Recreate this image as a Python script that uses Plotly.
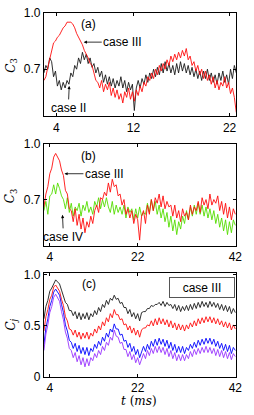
import plotly.graph_objects as go

# ---- time grids (ms) ----
t_a = [round(2.7 + 0.2 * k, 2) for k in range(101)]
t_b = [round(2.8 + 0.4 * k, 2) for k in range(99)]

# ---- panel (a): C3, case II (black) and case III (red) ----
a_case3 = [0.64, 0.66, 0.71, 0.75, 0.80, 0.84, 0.85, 0.87, 0.88, 0.90,
           0.92, 0.93, 0.95, 0.95, 0.95, 0.94, 0.92, 0.89, 0.87, 0.85,
           0.83, 0.80, 0.78, 0.76, 0.73, 0.72, 0.68, 0.64, 0.63, 0.60,
           0.64, 0.58, 0.62, 0.59, 0.63, 0.56, 0.60, 0.55, 0.59, 0.54,
           0.57, 0.52, 0.58, 0.55, 0.60, 0.54, 0.58, 0.53, 0.59, 0.56,
           0.61, 0.58, 0.63, 0.61, 0.66, 0.64, 0.68, 0.65, 0.70, 0.67,
           0.72, 0.69, 0.73, 0.70, 0.75, 0.72, 0.77, 0.74, 0.78, 0.75,
           0.79, 0.76, 0.80, 0.77, 0.81, 0.75, 0.77, 0.72, 0.74, 0.69,
           0.72, 0.67, 0.70, 0.65, 0.69, 0.64, 0.67, 0.62, 0.66, 0.60,
           0.64, 0.59, 0.63, 0.61, 0.66, 0.60, 0.63, 0.57, 0.60, 0.55,
           0.47]
a_case2 = [0.68, 0.72, 0.70, 0.76, 0.74, 0.66, 0.69, 0.61, 0.64, 0.59,
           0.63, 0.60, 0.64, 0.62, 0.68, 0.66, 0.72, 0.70, 0.76, 0.73,
           0.79, 0.75, 0.78, 0.73, 0.76, 0.71, 0.73, 0.68, 0.71, 0.66,
           0.69, 0.63, 0.67, 0.62, 0.66, 0.61, 0.65, 0.60, 0.64, 0.61,
           0.66, 0.60, 0.64, 0.58, 0.63, 0.59, 0.62, 0.48, 0.60, 0.64,
           0.60, 0.65, 0.62, 0.67, 0.63, 0.68, 0.65, 0.70, 0.66, 0.71,
           0.67, 0.73, 0.68, 0.74, 0.69, 0.73, 0.68, 0.72, 0.67, 0.73,
           0.68, 0.74, 0.69, 0.73, 0.68, 0.72, 0.67, 0.71, 0.66, 0.70,
           0.65, 0.69, 0.64, 0.69, 0.65, 0.70, 0.64, 0.68, 0.63, 0.67,
           0.62, 0.68, 0.64, 0.69, 0.63, 0.67, 0.62, 0.70, 0.65, 0.72,
           0.68]

# ---- panel (b): C3, case III (red) and case IV (green) ----
b_case3 = [0.66, 0.73, 0.77, 0.84, 0.87, 0.93, 0.95, 0.93, 0.91, 0.86,
           0.83, 0.75, 0.73, 0.65, 0.64, 0.58, 0.65, 0.56, 0.62, 0.54,
           0.60, 0.52, 0.58, 0.55, 0.61, 0.57, 0.64, 0.67, 0.63, 0.71,
           0.70, 0.74, 0.72, 0.79, 0.74, 0.81, 0.77, 0.78, 0.72, 0.73,
           0.67, 0.70, 0.62, 0.65, 0.60, 0.64, 0.57, 0.62, 0.59, 0.48,
           0.61, 0.64, 0.57, 0.67, 0.62, 0.70, 0.64, 0.71, 0.68, 0.73,
           0.66, 0.72, 0.65, 0.69, 0.66, 0.67, 0.61, 0.67, 0.60, 0.64,
           0.58, 0.65, 0.61, 0.63, 0.59, 0.67, 0.62, 0.66, 0.64, 0.69,
           0.63, 0.71, 0.67, 0.70, 0.65, 0.73, 0.67, 0.70, 0.68, 0.72,
           0.64, 0.69, 0.62, 0.68, 0.60, 0.66, 0.59, 0.65, 0.62]
b_case4 = [0.64, 0.69, 0.62, 0.72, 0.73, 0.78, 0.73, 0.79, 0.76, 0.72,
           0.70, 0.65, 0.71, 0.63, 0.68, 0.61, 0.66, 0.64, 0.68, 0.61,
           0.67, 0.64, 0.69, 0.63, 0.66, 0.62, 0.69, 0.66, 0.71, 0.65,
           0.70, 0.66, 0.71, 0.66, 0.63, 0.69, 0.62, 0.67, 0.63, 0.66,
           0.62, 0.67, 0.60, 0.66, 0.63, 0.65, 0.59, 0.65, 0.60, 0.66,
           0.61, 0.63, 0.62, 0.68, 0.63, 0.70, 0.64, 0.69, 0.62, 0.67,
           0.60, 0.65, 0.58, 0.63, 0.55, 0.61, 0.53, 0.59, 0.51, 0.58,
           0.54, 0.61, 0.57, 0.64, 0.59, 0.66, 0.61, 0.67, 0.62, 0.68,
           0.62, 0.67, 0.61, 0.66, 0.60, 0.65, 0.59, 0.64, 0.57, 0.62,
           0.55, 0.60, 0.53, 0.59, 0.51, 0.58, 0.52, 0.59, 0.56]

# ---- panel (c): Cj for case III ----
c_black = [0.57, 0.69, 0.75, 0.84, 0.87, 0.92, 0.95, 0.93, 0.91, 0.85,
           0.80, 0.73, 0.71, 0.65, 0.65, 0.60, 0.64, 0.57, 0.63, 0.56,
           0.62, 0.57, 0.63, 0.56, 0.62, 0.59, 0.65, 0.61, 0.68, 0.64,
           0.71, 0.68, 0.75, 0.71, 0.77, 0.75, 0.80, 0.76, 0.77, 0.72,
           0.73, 0.68, 0.68, 0.62, 0.66, 0.59, 0.63, 0.57, 0.62, 0.55,
           0.63, 0.64, 0.64, 0.67, 0.67, 0.70, 0.69, 0.71, 0.71, 0.73,
           0.70, 0.74, 0.69, 0.73, 0.70, 0.71, 0.67, 0.71, 0.65, 0.70,
           0.64, 0.69, 0.65, 0.70, 0.65, 0.71, 0.66, 0.72, 0.67, 0.73,
           0.68, 0.74, 0.69, 0.73, 0.68, 0.74, 0.69, 0.73, 0.68, 0.72,
           0.66, 0.71, 0.65, 0.70, 0.64, 0.69, 0.62, 0.67, 0.63]
c_red = [0.45, 0.59, 0.66, 0.76, 0.80, 0.88, 0.90, 0.87, 0.84, 0.76,
         0.70, 0.59, 0.55, 0.47, 0.46, 0.41, 0.46, 0.39, 0.44, 0.37,
         0.43, 0.38, 0.44, 0.37, 0.43, 0.40, 0.47, 0.43, 0.50, 0.46,
         0.54, 0.50, 0.58, 0.54, 0.62, 0.58, 0.66, 0.61, 0.61, 0.56,
         0.57, 0.51, 0.52, 0.46, 0.50, 0.43, 0.48, 0.41, 0.46, 0.39,
         0.46, 0.48, 0.48, 0.51, 0.50, 0.55, 0.50, 0.57, 0.51, 0.58,
         0.52, 0.57, 0.51, 0.56, 0.49, 0.55, 0.48, 0.53, 0.46, 0.52,
         0.46, 0.51, 0.45, 0.51, 0.47, 0.53, 0.49, 0.55, 0.50, 0.57,
         0.52, 0.58, 0.53, 0.59, 0.54, 0.59, 0.53, 0.58, 0.52, 0.57,
         0.51, 0.55, 0.49, 0.54, 0.48, 0.53, 0.46, 0.51, 0.47]
c_blue = [0.32, 0.48, 0.57, 0.69, 0.75, 0.83, 0.86, 0.83, 0.80, 0.71,
          0.63, 0.51, 0.45, 0.36, 0.34, 0.28, 0.33, 0.25, 0.31, 0.23,
          0.29, 0.22, 0.29, 0.21, 0.28, 0.25, 0.32, 0.28, 0.35, 0.31,
          0.39, 0.35, 0.43, 0.39, 0.47, 0.44, 0.52, 0.47, 0.47, 0.41,
          0.42, 0.35, 0.36, 0.29, 0.33, 0.25, 0.30, 0.22, 0.27, 0.19,
          0.25, 0.30, 0.25, 0.32, 0.27, 0.35, 0.30, 0.37, 0.31, 0.38,
          0.32, 0.37, 0.30, 0.36, 0.28, 0.34, 0.26, 0.32, 0.24, 0.30,
          0.24, 0.30, 0.23, 0.29, 0.26, 0.32, 0.28, 0.34, 0.29, 0.36,
          0.31, 0.37, 0.32, 0.38, 0.33, 0.38, 0.32, 0.37, 0.30, 0.35,
          0.28, 0.33, 0.26, 0.32, 0.25, 0.31, 0.23, 0.29, 0.26]
c_purple = [0.26, 0.42, 0.51, 0.63, 0.69, 0.78, 0.81, 0.78, 0.74, 0.64,
            0.56, 0.44, 0.38, 0.28, 0.26, 0.19, 0.24, 0.15, 0.21, 0.12,
            0.19, 0.10, 0.18, 0.11, 0.19, 0.16, 0.23, 0.19, 0.26, 0.22,
            0.30, 0.26, 0.34, 0.31, 0.39, 0.36, 0.46, 0.40, 0.39, 0.33,
            0.34, 0.27, 0.27, 0.20, 0.25, 0.17, 0.22, 0.14, 0.19, 0.12,
            0.18, 0.23, 0.18, 0.26, 0.21, 0.28, 0.23, 0.30, 0.24, 0.30,
            0.24, 0.29, 0.22, 0.28, 0.20, 0.26, 0.18, 0.24, 0.16, 0.22,
            0.16, 0.22, 0.16, 0.22, 0.18, 0.25, 0.20, 0.27, 0.22, 0.28,
            0.23, 0.29, 0.24, 0.30, 0.24, 0.29, 0.23, 0.28, 0.21, 0.27,
            0.20, 0.26, 0.19, 0.25, 0.18, 0.24, 0.17, 0.23, 0.20]

x_ticks_a = [4, 12, 22]
x_ticks_bc = [4, 22, 42]
y_ticks_ab = [0.7, 1.0]
y_ticklabels_ab = ["0.7", "1.0"]
y_ticks_c = [0, 0.5, 1.0]
y_ticklabels_c = ["0", "0.5", "1.0"]

RED = "#ff0d0d"
GREEN = "#55dd00"
BLUE = "#0000ff"
PURPLE = "#9933ff"
BLACK = "#1a1a1a"

W, H = 254, 415
def px_x(p):
    return p / W
def px_y(p):
    return 1 - p / H

fig = go.Figure()
lw = 0.9
fig.add_trace(go.Scatter(x=t_a, y=a_case2, mode="lines", line=dict(color=BLACK, width=lw), xaxis="x", yaxis="y"))
fig.add_trace(go.Scatter(x=t_a, y=a_case3, mode="lines", line=dict(color=RED, width=lw), xaxis="x", yaxis="y"))
fig.add_trace(go.Scatter(x=t_b, y=b_case4, mode="lines", line=dict(color=GREEN, width=lw), xaxis="x2", yaxis="y2"))
fig.add_trace(go.Scatter(x=t_b, y=b_case3, mode="lines", line=dict(color=RED, width=lw), xaxis="x2", yaxis="y2"))
fig.add_trace(go.Scatter(x=t_b, y=c_black, mode="lines", line=dict(color=BLACK, width=lw), xaxis="x3", yaxis="y3"))
fig.add_trace(go.Scatter(x=t_b, y=c_red, mode="lines", line=dict(color=RED, width=lw), xaxis="x3", yaxis="y3"))
fig.add_trace(go.Scatter(x=t_b, y=c_blue, mode="lines", line=dict(color=BLUE, width=lw), xaxis="x3", yaxis="y3"))
fig.add_trace(go.Scatter(x=t_b, y=c_purple, mode="lines", line=dict(color=PURPLE, width=lw), xaxis="x3", yaxis="y3"))

tickfont = dict(family="Liberation Sans, Arial, sans-serif", size=12, color="black")
common = dict(showline=True, linecolor="black", linewidth=1, mirror="allticks",
              ticks="inside", ticklen=3, tickcolor="black", showgrid=False,
              zeroline=False, tickfont=tickfont, ticklabeloverflow="allow")
xdom = [px_x(45), px_x(242)]

fig.update_layout(
    width=W, height=H, margin=dict(l=0, r=0, t=0, b=0),
    paper_bgcolor="white", plot_bgcolor="white", showlegend=False,
    xaxis=dict(domain=xdom, range=[2.7, 22.7], tickvals=x_ticks_a, anchor="y", **common),
    yaxis=dict(domain=[px_y(113), px_y(6)], range=[0.45, 1.0], tickvals=y_ticks_ab,
               ticktext=y_ticklabels_ab, anchor="x", **common),
    xaxis2=dict(domain=xdom, range=[2.8, 42.2], tickvals=x_ticks_bc, anchor="y2", **common),
    yaxis2=dict(domain=[px_y(247), px_y(142)], range=[0.45, 1.0], tickvals=y_ticks_ab,
                ticktext=y_ticklabels_ab, anchor="x2", **common),
    xaxis3=dict(domain=xdom, range=[2.8, 42.2], tickvals=x_ticks_bc, anchor="y3", **common),
    yaxis3=dict(domain=[px_y(383), px_y(275)], range=[0, 1.02], tickvals=y_ticks_c,
                ticktext=y_ticklabels_c, anchor="x3", **common),
)

lab_font = dict(family="Liberation Sans, Arial, sans-serif", size=12, color="black")
serif = dict(family="DejaVu Serif, Liberation Serif, serif", size=12, color="black")

ann = []
for txt, yp in [("(a)", 18), ("(b)", 154), ("(c)", 287)]:
    ann.append(dict(text=txt, xref="paper", yref="paper", x=px_x(91), y=px_y(yp),
                    showarrow=False, font=lab_font, xanchor="center", yanchor="middle"))
arrow = dict(showarrow=True, arrowhead=2, arrowsize=0.8, arrowwidth=0.8, arrowcolor="black",
             font=lab_font)
ann.append(dict(text="case III", xref="x", yref="y", x=6.84, y=0.844, ax=39, ay=0, **arrow))
ann.append(dict(text="case II", xref="x", yref="y", x=5.33, y=0.611, ax=-1, ay=22, **arrow))
ann.append(dict(text="case III", xref="x2", yref="y2", x=7.0, y=0.84, ax=40, ay=0, **arrow))
ann.append(dict(text="case IV", xref="x2", yref="y2", x=6.6, y=0.617, ax=1, ay=22, **arrow))
ann.append(dict(text="case III", xref="paper", yref="paper", x=px_x(206.5), y=px_y(290),
                showarrow=False, font=lab_font, bordercolor="#555", borderwidth=1,
                bgcolor="white", width=62, height=17, xanchor="center", yanchor="middle"))
for txt, yp in [("<i>C</i><sub>3</sub>", 60), ("<i>C</i><sub>3</sub>", 195), ("<i>C</i><sub><i>j</i></sub>", 329)]:
    ann.append(dict(text=txt, xref="paper", yref="paper", x=px_x(12), y=px_y(yp),
                    showarrow=False, font=serif, textangle=-90, xanchor="center", yanchor="middle"))
ann.append(dict(text="<i>t</i> (<i>ms</i>)", xref="paper", yref="paper", x=px_x(142), y=px_y(408),
                showarrow=False, font=serif, xanchor="center", yanchor="middle"))
fig.update_layout(annotations=ann)

fig.write_html("out.html", config={"displayModeBar": False},
               post_script="document.body.style.margin='0';document.body.style.overflow='hidden';")
